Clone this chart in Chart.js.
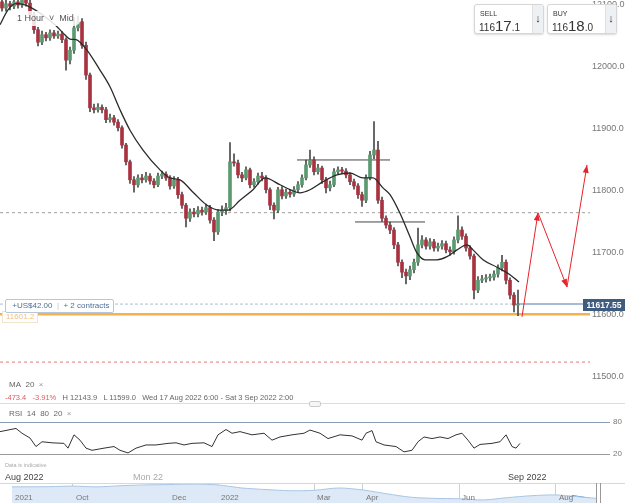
<!DOCTYPE html>
<html>
<head>
<meta charset="utf-8">
<script src="https://cdn.jsdelivr.net/npm/chart.js@4.4.0/dist/chart.umd.min.js"></script>
<style>
  body { margin: 0; width: 625px; height: 503px; overflow: hidden; background: #fff; position: relative;
         font-family: "Liberation Sans", Arial, sans-serif; color: #555; }
  canvas { position: absolute; }
  .t { position: absolute; white-space: nowrap; line-height: 1; }
  .quote { position: absolute; top: 4px; width: 68px; height: 28px; background: #fff; border: 1px solid #d6d6d6;
           border-radius: 3px; box-shadow: 0 1px 2px rgba(0,0,0,0.15); }
  .quote .lbl { position: absolute; left: 5px; top: 5px; font-size: 7px; color: #333; }
  .quote .px { position: absolute; left: 4px; top: 12px; color: #333; font-size: 10px; }
  .quote .px b { font-size: 15px; font-weight: normal; }
  .quote .arr { position: absolute; right: 0; top: 0; width: 10px; height: 28px; background: #eef1f4;
                border-left: 1px solid #e0e0e0; font-size: 11px; color: #333; text-align: center; line-height: 26px; }
</style>
</head>
<body>
<canvas id="priceChart" width="625" height="403" style="left:0;top:0"></canvas>
<canvas id="rsiChart" width="625" height="65" style="left:0;top:405px"></canvas>
<canvas id="navChart" width="584" height="20" style="left:12px;top:483px"></canvas>

<div class="t" style="left:10px;top:11px;padding:3px 7px;background:rgba(255,255,255,0.85);border-radius:8px;font-size:9px;color:#555">1 Hour &nbsp;˅&nbsp; Mid</div>

<div class="quote" style="left:474px"><span class="lbl">SELL</span><span class="px">116<b>17</b>.1</span><span class="arr">↓</span></div>
<div class="quote" style="left:547px"><span class="lbl">BUY</span><span class="px">116<b>18</b>.0</span><span class="arr">↓</span></div>

<div class="t" style="left:2px;top:311px;padding:1px 3px;border:1px solid #f3e3c8;background:#fff;font-size:8px;color:#f2c27e">11601.2</div>
<div class="t" style="left:5px;top:299px;padding:2px 4px;border:1px solid #b5c7dc;border-radius:2px;background:#fff;font-size:8px;color:#4f6f96">
  &nbsp;+US$42.00 &nbsp;<span style="color:#b5c7dc">|</span>&nbsp; + 2 contracts</div>
<div class="t" style="left:583px;top:299px;width:42px;height:12px;background:#3f5b7e;color:#fff;font-size:8.5px;font-weight:bold;text-align:center;line-height:12px">11617.55</div>

<div class="t" style="left:9px;top:381px;font-size:8px;color:#666">MA&nbsp; 20 &nbsp;<span style="color:#999">×</span></div>
<div class="t" style="left:5px;top:394px;font-size:7.5px;color:#666"><span style="color:#e0585d">-473.4 &nbsp;&nbsp;-3.91%</span>&nbsp;&nbsp; H 12143.9 &nbsp; L 11599.0 &nbsp; Wed 17 Aug 2022 6:00 - Sat 3 Sep 2022 2:00</div>
<div class="t" style="left:0;top:403px;width:625px;height:1px;background:#ddd"></div>
<div class="t" style="left:309px;top:401px;width:10px;height:4px;border:1px solid #ccc;border-radius:2px;background:#f6f6f6"></div>
<div class="t" style="left:9px;top:410px;font-size:8px;color:#666">RSI&nbsp; 14&nbsp; 80&nbsp; 20 &nbsp;<span style="color:#999">×</span></div>

<div class="t" style="left:5px;top:463px;font-size:5.5px;color:#aaa">Data is indicative</div>
<div class="t" style="left:5px;top:473px;font-size:9px;color:#444">Aug 2022</div>
<div class="t" style="left:133px;top:473px;font-size:9px;color:#aaa">Mon 22</div>
<div class="t" style="left:508px;top:473px;font-size:9px;color:#444">Sep 2022</div>

<div class="t" style="left:0;top:483px;width:625px;height:1px;background:#d8d8d8"></div>
<div class="t" style="left:596px;top:483px;width:1px;height:20px;background:#999"></div>
<div class="t" style="left:600px;top:483px;width:1px;height:20px;background:#999"></div>
<div id="navLabels"></div>

<script>
// ---- candles (1 hour, index 0..129) ----
const opens = [12105,12095,12102,12098,12105,12100,12108,12103,12084,12060,
  12040,12052,12047,12055,12050,12053,12044,12011,12027,12063,
  12073,12035,11987,11934,11931,11935,11931,11915,11918,11911,
  11902,11874,11847,11818,11810,11821,11818,11824,11816,11810,
  11824,11827,11821,11808,11818,11794,11777,11756,11766,11763,
  11769,11766,11773,11753,11734,11766,11769,11773,11847,11845,
  11826,11821,11834,11810,11815,11824,11821,11802,11777,11769,
  11802,11792,11798,11795,11802,11810,11821,11842,11850,11831,
  11837,11818,11805,11810,11831,11834,11832,11826,11815,11808,
  11794,11785,11821,11858,11866,11785,11756,11745,11737,11713,
  11685,11669,11663,11673,11685,11713,11721,11711,11718,11708,
  11711,11715,11705,11702,11721,11737,11727,11708,11695,11640,
  11656,11658,11660,11661,11666,11676,11685,11656,11632,11616];
const closes = [12095,12102,12098,12105,12100,12108,12103,12084,12060,12040,
  12052,12047,12055,12050,12053,12044,12011,12027,12063,12073,
  12035,11987,11934,11931,11935,11931,11915,11918,11911,11902,
  11874,11847,11818,11810,11821,11818,11824,11816,11810,11824,
  11827,11821,11808,11818,11794,11777,11756,11766,11763,11769,
  11766,11773,11753,11734,11766,11769,11773,11847,11845,11826,
  11821,11834,11810,11815,11824,11821,11802,11777,11769,11802,
  11792,11798,11795,11802,11810,11821,11842,11850,11831,11837,
  11818,11805,11810,11831,11834,11832,11826,11815,11808,11794,
  11785,11821,11858,11866,11785,11756,11745,11737,11713,11685,
  11669,11663,11673,11685,11713,11721,11711,11718,11708,11711,
  11715,11705,11702,11721,11737,11727,11708,11695,11640,11656,
  11658,11660,11661,11666,11676,11685,11656,11632,11616,11617.55];
const highs = [12112,12108,12106,12110,12108,12114,12116,12108,12088,12064,
  12058,12056,12060,12059,12058,12057,12047,12032,12080,12082,
  12078,12040,11990,11940,11941,11939,11935,11924,11922,11915,
  11905,11877,11850,11823,11826,11827,11830,11828,11820,11829,
  11832,11831,11825,11823,11822,11798,11780,11771,11772,11775,
  11774,11779,11777,11757,11770,11776,11780,11878,11860,11850,
  11830,11839,11837,11820,11829,11830,11825,11805,11781,11806,
  11807,11803,11802,11807,11815,11826,11850,11866,11855,11843,
  11840,11822,11816,11836,11839,11838,11836,11829,11819,11812,
  11798,11826,11864,11912,11880,11790,11760,11750,11741,11717,
  11689,11674,11679,11690,11740,11728,11725,11723,11722,11716,
  11720,11719,11710,11726,11760,11742,11731,11712,11698,11662,
  11664,11665,11666,11671,11681,11696,11689,11660,11636,11640];
const lows = [12090,12090,12092,12094,12095,12096,12098,12078,12054,12034,
  12036,12042,12043,12046,12046,12039,11995,12005,12022,12058,
  12030,11980,11928,11926,11927,11926,11910,11911,11906,11897,
  11869,11842,11812,11798,11806,11813,11814,11811,11805,11807,
  11820,11817,11803,11804,11788,11772,11742,11751,11758,11758,
  11761,11762,11748,11720,11730,11760,11762,11768,11840,11821,
  11815,11818,11805,11806,11811,11816,11797,11770,11755,11765,
  11787,11788,11790,11791,11798,11806,11818,11838,11826,11827,
  11812,11797,11800,11807,11827,11828,11821,11810,11803,11788,
  11775,11781,11818,11852,11780,11751,11740,11731,11707,11679,
  11660,11650,11657,11668,11680,11708,11706,11706,11703,11703,
  11706,11700,11696,11698,11716,11722,11703,11690,11626,11636,
  11652,11653,11655,11656,11661,11671,11650,11626,11605,11599];

// MA 20 line (x in candle index)
const maX = [-0.5,1.5,3.5,5.75,8.25,10.75,13.25,15.25,17,18.5,19.5,21.25,24.5,27,29.5,32,35.25,39.5,42,44.5,
  47.75,51.25,54.5,56.5,59.5,62.75,65.75,69.5,72,74.5,77,80.25,83.75,87,90.25,92.75,95.25,97,99.5,102,
  103.75,105.75,108.75,111.25,113.75,116.25,117.75,120.25,123.75,127,129.25];
const maY = [12068,12092,12102,12100,12092,12081,12068,12055,12045,12044,12040,12027,11995,11968,11931,11898,11866,11834,11821,11818,
  11798,11777,11769,11769,11785,11802,11821,11810,11802,11797,11802,11815,11826,11829,11821,11821,11805,11794,11764,11726,
  11700,11689,11689,11694,11705,11713,11705,11689,11677,11665,11653];

// RSI 14
const rsiX = [-0.5,1.5,3.5,5,7,8.5,10,12.5,15.5,16.5,18,19.5,21,22.5,25.5,28,29.5,31.5,33.5,36,
  38.5,41.5,43.5,45.5,47.5,50.5,52.5,54,56,57.5,59.5,62.5,65.5,67.5,69.5,72.5,75.5,77,79.5,81.5,
  84.5,87.5,90,91,92.5,93.5,95.5,98.5,100.5,102.5,104,105.5,107.5,109.5,111.5,113.5,115,116.5,118,119.5,
  122.5,124.5,126,127.5,128.5,129.5];
const rsiY = [62,65,68,59,50,34,43,41,40,31,56,46,31,27,31,34,27,22,31,37,
  37,40,41,37,40,41,34,56,66,59,62,56,59,46,52,56,59,65,59,49,
  56,54,46,59,64,43,37,34,24,27,43,52,49,52,49,56,59,46,31,38,
  40,43,56,34,31,40];
const rsiLevels = [20, 80];

// drawn objects
const arrowX = [130, 134, 141.25, 146.25];
const arrowY = [11597, 11765, 11645, 11842];
const trendLines = [[73.75, 97, 11850], [88.25, 105.75, 11750]];
const prevLevel = 11765;
const stopLevel = 11524;
const openLevel = 11601.2;
const lastPrice = 11617.55;
const priceTicks = [11500, 11600, 11700, 11800, 11900, 12000, 12100];

// navigator (x in months from Oct 2021)
const navX = [-1.26,-0.5,0,0.5,1,1.5,2,2.5,3,3.5,4,4.5,5,5.5,6,6.5,7,7.5,8,8.5,9,9.5,10,10.4,10.83];
const navY = [15000,15050,15200,15000,15300,15500,15600,15700,15500,14700,14300,14000,14100,14700,14200,13200,12300,12000,11900,11600,12200,12700,12900,12500,12000];
const navSelX = [10.33, 10.5, 10.7];
const navSelY = [12750, 12450, 12050];
const navTicks = [0, 2, 3, 5, 6, 8, 10];
const navLabels = ['Oct', 'Dec', '2022', 'Mar', 'Apr', 'Jun', 'Aug'];

const upColor = '#5b9a70';
const downColor = '#a8323f';
const pts = (xs, ys) => xs.map((x, i) => ({ x: x, y: ys[i] }));
const hline = (x0, x1, y) => [{ x: x0, y: y }, { x: x1, y: y }];
const noPad = s => { s.paddingTop = 0; s.paddingBottom = 0; };

const arrowHeads = {
  id: 'arrowHeads',
  afterDatasetsDraw(chart) {
    const ctx = chart.ctx;
    chart.data.datasets.forEach((ds, di) => {
      if (!ds.arrows) return;
      const p = chart.getDatasetMeta(di).data;
      ctx.save();
      ctx.fillStyle = ds.borderColor;
      for (let i = 1; i < p.length; i++) {
        const a = p[i - 1], b = p[i];
        const ang = Math.atan2(b.y - a.y, b.x - a.x);
        const c = Math.cos(ang), s = Math.sin(ang);
        ctx.beginPath();
        ctx.moveTo(b.x, b.y);
        ctx.lineTo(b.x - 8 * c + 3 * s, b.y - 8 * s - 3 * c);
        ctx.lineTo(b.x - 8 * c - 3 * s, b.y - 8 * s + 3 * c);
        ctx.closePath();
        ctx.fill();
      }
      ctx.restore();
    });
  }
};

const lineDs = (data, color, extra) => Object.assign({
  type: 'line', data: data, borderColor: color, borderWidth: 1, pointRadius: 0, fill: false, order: 0
}, extra || {});

new Chart(document.getElementById('priceChart'), {
  type: 'bar',
  data: {
    datasets: [
      lineDs(hline(-0.5, 147, openLevel), '#f5b24c', { borderWidth: 2.5, order: 5 }),
      lineDs(hline(-0.5, 129, lastPrice), '#a9bdd4', { borderDash: [3, 2], order: 5 }),
      lineDs(hline(129, 147, lastPrice), '#8aa6c6', { borderWidth: 1.5, order: 5 }),
      lineDs(hline(-0.5, 147, prevLevel), '#a0a0a0', { borderDash: [3, 3], order: 5 }),
      lineDs(hline(-0.5, 147, stopLevel), '#e47a7a', { borderDash: [3, 3], order: 5 }),
      lineDs(hline(trendLines[0][0], trendLines[0][1], trendLines[0][2]), '#444', { order: 5 }),
      lineDs(hline(trendLines[1][0], trendLines[1][1], trendLines[1][2]), '#444', { order: 5 }),
      {
        data: opens.map((o, i) => ({ x: i, y: [lows[i], highs[i]] })),
        backgroundColor: '#4a4a4a', barThickness: 1, grouped: false, order: 3
      },
      {
        data: opens.map((o, i) => ({ x: i, y: [o, closes[i]] })),
        backgroundColor: opens.map((o, i) => closes[i] >= o ? upColor : downColor),
        barThickness: 3, minBarLength: 1, grouped: false, order: 2
      },
      lineDs(pts(maX, maY), '#2a2a2a', { borderWidth: 1.3, cubicInterpolationMode: 'monotone', order: 1 }),
      lineDs(pts(arrowX, arrowY), '#e8232b', { arrows: true, order: 0 })
    ]
  },
  options: {
    responsive: false,
    animation: false,
    layout: { padding: 0 },
    plugins: { legend: { display: false }, tooltip: { enabled: false } },
    scales: {
      x: { type: 'linear', min: -0.5, max: 147, offset: false, display: false },
      y: {
        position: 'right', min: 11458, max: 12108,
        afterBuildTicks: s => { s.ticks = priceTicks.map(v => ({ value: v })); },
        afterFit: s => { s.width = 35; noPad(s); },
        grid: { display: false, drawTicks: false },
        border: { display: false },
        ticks: { padding: 2, color: '#777', font: { size: 9, family: 'Liberation Sans' }, callback: v => v.toFixed(1) }
      }
    }
  },
  plugins: [arrowHeads]
});

new Chart(document.getElementById('rsiChart'), {
  type: 'line',
  data: { datasets: [lineDs(pts(rsiX, rsiY), '#333', { tension: 0 })] },
  options: {
    responsive: false,
    animation: false,
    layout: { padding: 0 },
    plugins: { legend: { display: false }, tooltip: { enabled: false } },
    scales: {
      x: { type: 'linear', min: -0.5, max: 152, offset: false, display: false },
      y: {
        position: 'right', min: -10, max: 112,
        afterBuildTicks: s => { s.ticks = rsiLevels.map(v => ({ value: v })); },
        afterFit: s => { s.width = 15; noPad(s); },
        grid: { color: ctx => ctx.tick && ctx.tick.value === 80 ? '#8d9fb5' : '#9a9a9a', drawTicks: false },
        border: { display: false },
        ticks: { padding: 3, color: '#777', font: { size: 8, family: 'Liberation Sans' } }
      }
    }
  }
});

new Chart(document.getElementById('navChart'), {
  type: 'line',
  data: {
    datasets: [
      lineDs(pts(navX, navY), '#a9c6e4', { fill: 'start', backgroundColor: '#dde9f6', tension: 0.3 }),
      lineDs(pts(navSelX, navSelY), '#3f7fcf', { fill: 'start', backgroundColor: 'rgba(90,145,210,0.6)', tension: 0.3 })
    ]
  },
  options: {
    responsive: false,
    animation: false,
    layout: { padding: 0 },
    plugins: { legend: { display: false }, tooltip: { enabled: false } },
    scales: {
      x: {
        type: 'linear', min: -1.26, max: 10.83,
        afterBuildTicks: s => { s.ticks = navTicks.map(v => ({ value: v })); },
        afterFit: s => { s.height = 0; },
        grid: { color: '#c9d1da', drawTicks: false },
        border: { display: false },
        ticks: { display: false }
      },
      y: { min: 10800, max: 16000, display: false }
    }
  }
});

// navigator labels
const navBox = document.getElementById('navLabels');
const labelAt = (x, text) => {
  const d = document.createElement('div');
  d.className = 't';
  d.style.cssText = 'left:' + x + 'px;top:494px;font-size:8px;color:#777';
  d.textContent = text;
  navBox.appendChild(d);
};
labelAt(15, '2021');
navTicks.forEach((m, i) => labelAt(Math.round(12 + (m + 1.26) / 12.09 * 584) + 3, navLabels[i]));
</script>
</body>
</html>
